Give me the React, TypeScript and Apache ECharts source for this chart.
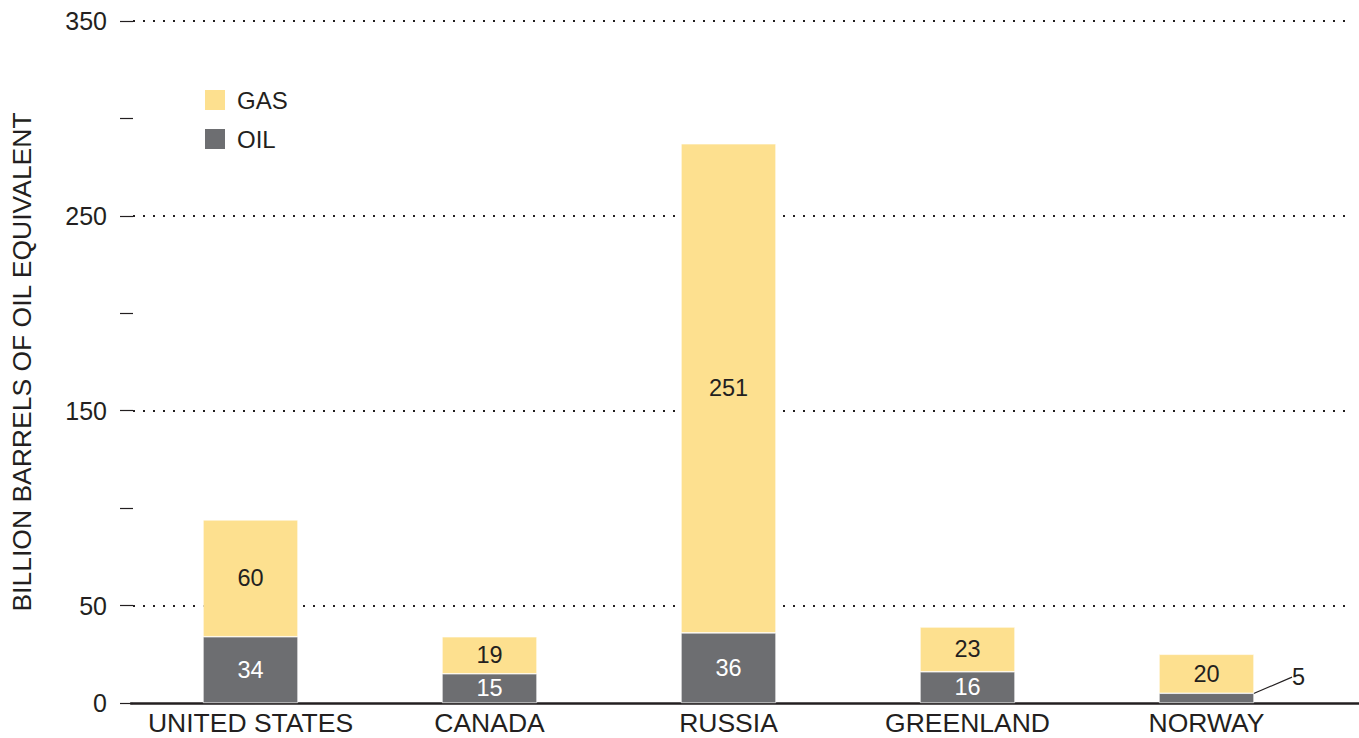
import React, { useEffect, useRef } from "react";
import * as echarts from "echarts";

const categories = ["UNITED STATES", "CANADA", "RUSSIA", "GREENLAND", "NORWAY"];
const oilValues = [34, 15, 36, 16, 5];
const gasValues = [60, 19, 251, 23, 20];
const yMin = 0;
const yMax = 350;
const yInterval = 50;
const labeledTicks = [0, 50, 150, 250, 350];
const yTitle = "BILLION BARRELS OF OIL EQUIVALENT";

const FONT = "'Liberation Sans', Arial, Helvetica, sans-serif";
const TEXT = "#231F20";
const GAS = "#FDE08F";
const OIL = "#6D6E71";

export default function App() {
  const ref = useRef<HTMLDivElement>(null);
  useEffect(() => {
    if (!ref.current) return;
    const chart = echarts.init(ref.current, undefined, { renderer: "svg" });
    const common = { top: 21, bottom: 35, left: 131 };
    chart.setOption({
      animation: false,
      textStyle: { fontFamily: FONT, color: TEXT },
      grid: [
        { ...common, right: 14 },
        { ...common, right: 33 },
        { ...common, right: 0 },
      ],
      legend: {
        orient: "vertical",
        left: 203,
        top: 88,
        padding: 0,
        itemWidth: 22,
        itemHeight: 22,
        itemGap: 15,
        icon: "rect",
        data: ["GAS", "OIL"],
        textStyle: { fontFamily: FONT, fontSize: 24, color: TEXT, padding: [0, 0, 0, 6] },
      },
      xAxis: [
        { gridIndex: 0, type: "category", data: categories, show: false },
        {
          gridIndex: 1,
          type: "category",
          data: categories,
          axisLine: { show: false },
          axisTick: { show: false },
          axisLabel: {
            fontFamily: FONT,
            fontSize: 26.5,
            color: TEXT,
            margin: 6,
            interval: 0,
            hideOverlap: false,
          },
        },
        {
          gridIndex: 2,
          type: "value",
          min: 0,
          max: 1,
          axisLine: { show: true, lineStyle: { color: TEXT, width: 2.5 } },
          axisTick: { show: false },
          axisLabel: { show: false },
          splitLine: { show: false },
        },
      ],
      yAxis: [
        {
          gridIndex: 0,
          type: "value",
          min: yMin,
          max: yMax,
          interval: yInterval,
          axisLine: { show: false },
          axisTick: { show: true, length: 13, lineStyle: { color: TEXT, width: 1.2 } },
          axisLabel: {
            fontFamily: FONT,
            fontSize: 25,
            color: TEXT,
            margin: 26,
            formatter: (v: number) => (labeledTicks.includes(v) ? String(v) : ""),
          },
          splitLine: {
            show: true,
            lineStyle: { color: ["rgba(0,0,0,0)", TEXT], type: [2, 8], width: 2 },
          },
          name: yTitle,
          nameLocation: "middle",
          nameGap: 98,
          nameTextStyle: { fontFamily: FONT, fontSize: 26.5, color: TEXT },
        },
        { gridIndex: 1, type: "value", min: yMin, max: yMax, show: false },
        { gridIndex: 2, type: "value", min: yMin, max: yMax, show: false },
      ],
      series: [
        {
          name: "OIL",
          type: "bar",
          stack: "total",
          xAxisIndex: 1,
          yAxisIndex: 1,
          barWidth: 95,
          itemStyle: { color: OIL, borderColor: "#fff", borderWidth: 0.6 },
          data: oilValues.map((v) =>
            v < 8
              ? {
                  value: v,
                  label: { position: "right", color: TEXT, distance: 0 },
                  labelLine: { show: true, lineStyle: { color: TEXT, width: 1.2 } },
                }
              : v
          ),
          label: {
            show: true,
            position: "inside",
            color: "#fff",
            fontFamily: FONT,
            fontSize: 23.5,
          },
          labelLayout: (p: any) => (oilValues[p.dataIndex] < 8 ? { dx: 38, dy: -21 } : {}),
        },
        {
          name: "GAS",
          type: "bar",
          stack: "total",
          xAxisIndex: 1,
          yAxisIndex: 1,
          barWidth: 95,
          itemStyle: { color: GAS, borderColor: "#fff", borderWidth: 0.6 },
          data: gasValues,
          label: {
            show: true,
            position: "inside",
            color: TEXT,
            fontFamily: FONT,
            fontSize: 23.5,
          },
        },
      ],
    });
    return () => chart.dispose();
  }, []);
  return <div ref={ref} style={{ width: 1359, height: 738, position: "absolute", left: 0, top: 0 }} />;
}
